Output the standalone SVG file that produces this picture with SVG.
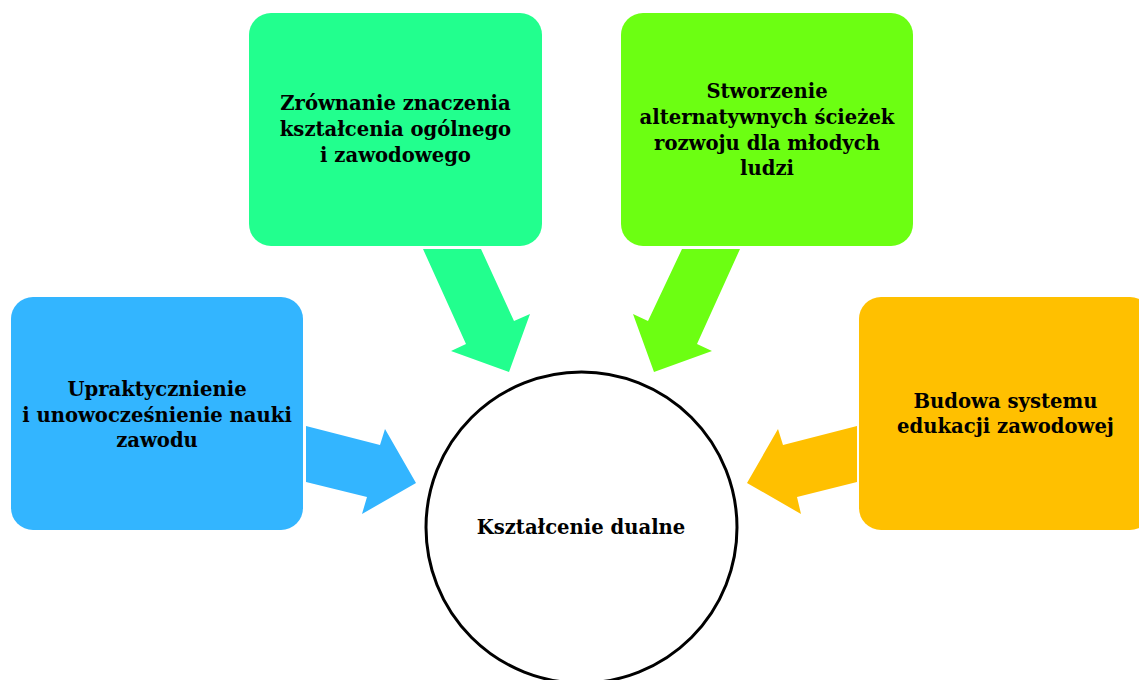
<svg xmlns="http://www.w3.org/2000/svg" width="1139" height="680" viewBox="0 0 1139 680">
<style>
.box{stroke:none}
.t{font-family:"DejaVu Serif","Liberation Serif",serif;font-weight:bold;font-size:19.6px;fill:#000;text-anchor:middle}
</style>
<rect width="1139" height="680" fill="#fff"/>
<g id="connectors">
<polygon fill="#33B5FF" points="306,426 380,445 385,429 416,483 362,514 367,497 306,482"/>
<polygon fill="#FFC000" points="857,426 783,445 778,429 747,483 801,514 797,497 857,482"/>
<polygon fill="#22FF8E" points="423,249 481,249 514,321 530,314 509,372 451,351 466,344"/>
<polygon fill="#6CFF12" points="682,249 740,249 697,344 712,351 654,372 633,314 648,321"/>
</g>
<g id="node-center">
<circle cx="581.5" cy="527.5" r="155.5" fill="#fff" stroke="#000" stroke-width="3"/>
<text class="t" x="581" y="534">Kształcenie dualne</text>
</g>
<g id="node-zrownanie">
<rect class="box" x="249" y="13" width="293" height="233" rx="22" fill="#22FF8E"/>
<text class="t" x="395.5" y="110">Zrównanie znaczenia</text>
<text class="t" x="395.5" y="136">kształcenia ogólnego</text>
<text class="t" x="395.5" y="162">i zawodowego</text>
</g>
<g id="node-stworzenie">
<rect class="box" x="621" y="13" width="292" height="233" rx="22" fill="#6CFF12"/>
<text class="t" x="767" y="98">Stworzenie</text>
<text class="t" x="767" y="124">alternatywnych ścieżek</text>
<text class="t" x="767" y="150">rozwoju dla młodych</text>
<text class="t" x="767" y="175">ludzi</text>
</g>
<g id="node-upraktycznienie">
<rect class="box" x="11" y="297" width="292" height="233" rx="22" fill="#33B5FF"/>
<text class="t" x="157" y="396">Upraktycznienie</text>
<text class="t" x="157" y="422">i unowocześnienie nauki</text>
<text class="t" x="157" y="447">zawodu</text>
</g>
<g id="node-budowa">
<rect class="box" x="859" y="297" width="293" height="233" rx="22" fill="#FFC000"/>
<text class="t" x="1005.5" y="408">Budowa systemu</text>
<text class="t" x="1005.5" y="433">edukacji zawodowej</text>
</g>
</svg>
